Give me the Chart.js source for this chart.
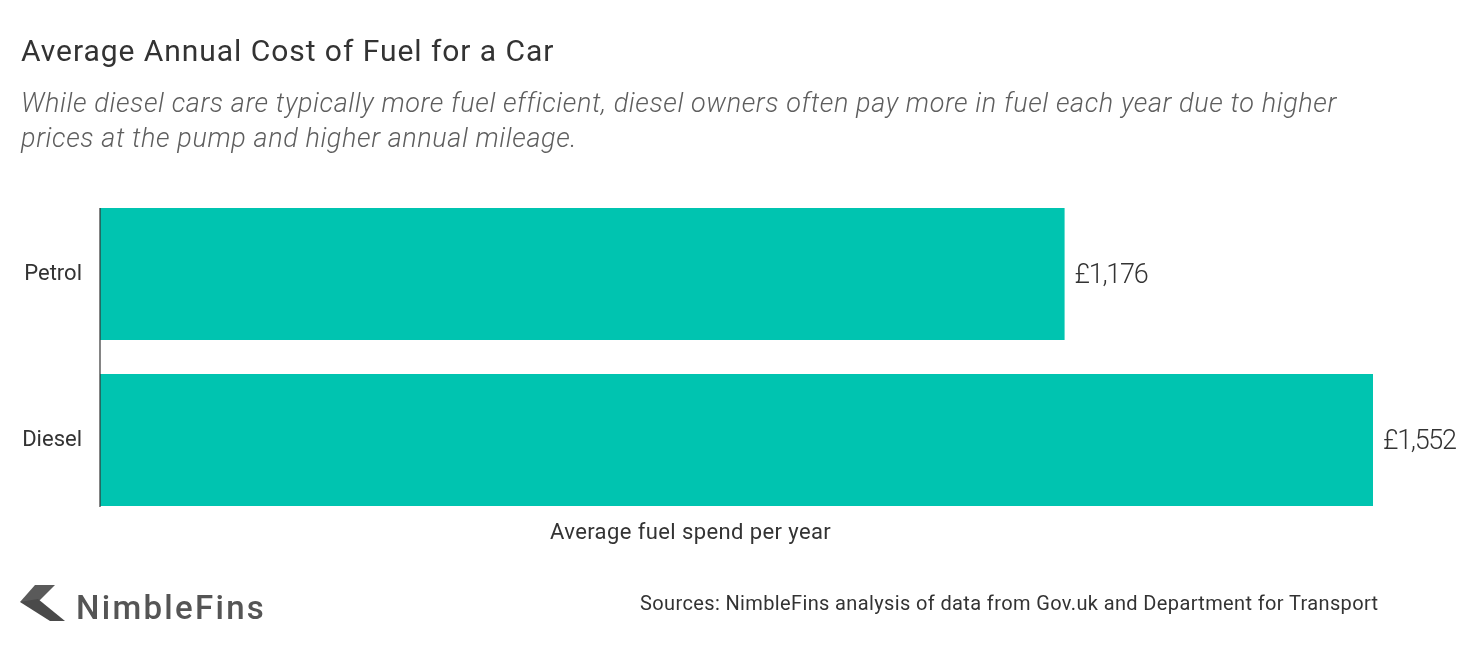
<!DOCTYPE html>
<html>
<head>
<meta charset="utf-8">
<script src="https://cdn.jsdelivr.net/npm/chart.js@4/dist/chart.umd.min.js"></script>
<style>
  html, body { margin: 0; padding: 0; background: #fff; }
  body { width: 1460px; height: 652px; position: relative; overflow: hidden; font-family: Roboto, "Noto Sans", sans-serif; color: #333; }
  .txt { position: absolute; white-space: nowrap; }
  #title { left: 21px; top: 33px; font-size: 30px; line-height: 36px; letter-spacing: 0.95px; color: #333; }
  #subtitle { left: 21px; top: 86px; font-size: 27px; line-height: 35px; letter-spacing: 0.6px; font-style: italic; font-weight: 300; color: #5e5e5e; }
  #xcap { left: 550px; top: 519px; font-size: 22px; line-height: 26px; letter-spacing: 0.4px; color: #333; }
  #sources { left: 640px; top: 591px; font-size: 20px; line-height: 24px; letter-spacing: 0.37px; color: #333; }
  #logo { left: 20px; top: 585px; }
  #brand { left: 76px; top: 589px; font-size: 33px; line-height: 38px; font-weight: 500; letter-spacing: 2.3px; color: #555; }
  #wrap { position: absolute; left: 0; top: 0; width: 1460px; height: 652px; }
</style>
</head>
<body>
<div id="wrap"><canvas id="chart"></canvas></div>
<div class="txt" id="title">Average Annual Cost of Fuel for a Car</div>
<div class="txt" id="subtitle">While diesel cars are typically more fuel efficient, diesel owners often pay more in fuel each year due to higher<br>prices at the pump and higher annual mileage.</div>
<div class="txt" id="xcap">Average fuel spend per year</div>
<svg class="txt" id="logo" width="46" height="37" viewBox="0 0 46 37">
  <polygon points="15,0 35,0 18,17 0,17" fill="#5a5a5a"/>
  <polygon points="0,17 18,14 45,36 30,36" fill="#4a4a4a"/>
</svg>
<div class="txt" id="brand">NimbleFins</div>
<div class="txt" id="sources">Sources: NimbleFins analysis of data from Gov.uk and Department for Transport</div>
<script>
const categories = ['Petrol', 'Diesel']
const fuelCost = [1176, 1552]

// value label at the end of each bar
const barLabels = {
    id: 'barLabels',
    afterDatasetsDraw(chart) {
        const ctx = chart.ctx
        const meta = chart.getDatasetMeta(0)
        ctx.save()
        ctx.font = '300 27px Roboto'
        ctx.letterSpacing = '-1.3px'
        ctx.fillStyle = '#333'
        ctx.textAlign = 'left'
        ctx.textBaseline = 'middle'
        meta.data.forEach((bar, i) => {
            ctx.fillText('£' + fuelCost[i].toLocaleString('en-GB'), bar.x + 10, bar.y + 2)
        })
        ctx.restore()
    }
}

// short axis line, only as tall as the bars
const axisLine = {
    id: 'axisLine',
    afterDatasetsDraw(chart) {
        const meta = chart.getDatasetMeta(0)
        const first = meta.data[0], last = meta.data[meta.data.length - 1]
        const ctx = chart.ctx
        ctx.save()
        ctx.strokeStyle = '#333'
        ctx.lineWidth = 1.2
        ctx.beginPath()
        ctx.moveTo(chart.chartArea.left, first.y - first.height / 2)
        ctx.lineTo(chart.chartArea.left, last.y + last.height / 2 + 1)
        ctx.stroke()
        ctx.restore()
    }
}

const config = {
    type: 'bar',
    data: {
        labels: categories,
        datasets: [{
            data: fuelCost,
            backgroundColor: '#00C4B0',
            borderWidth: 0,
            categoryPercentage: 0.795,
            barPercentage: 1
        }]
    },
    options: {
        indexAxis: 'y',
        responsive: true,
        maintainAspectRatio: false,
        animation: false,
        layout: { padding: { left: 0, top: 191, right: 87, bottom: 129 } },
        plugins: {
            legend: { display: false },
            tooltip: { enabled: false }
        },
        scales: {
            x: {
                min: 0,
                max: 1552,
                display: false
            },
            y: {
                grid: { display: false, drawTicks: false },
                border: { display: false },
                ticks: { color: '#333', font: { family: 'Roboto', size: 22 }, padding: 18 },
                afterFit: s => { s.width = 100 }
            }
        }
    },
    plugins: [barLabels, axisLine]
}

const mychart = new Chart(document.getElementById('chart'), config)
</script>
</body>
</html>
